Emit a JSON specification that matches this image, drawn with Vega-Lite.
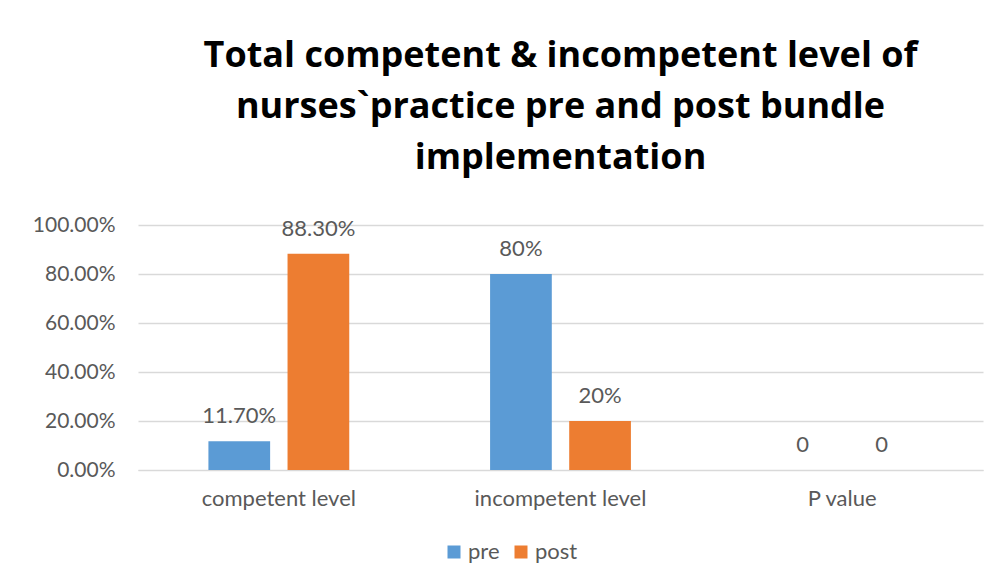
{
  "$schema": "https://vega.github.io/schema/vega-lite/v6.json",
  "width": 845,
  "height": 245,
  "autosize": {"type": "none"},
  "padding": {"left": 138, "top": 225, "right": 15, "bottom": 116},
  "background": "white",
  "config": {
    "font": "Lato",
    "view": {"stroke": null}
  },
  "title": {
    "text": ["Total competent & incompetent level of", "nurses`practice pre and post bundle", "implementation"],
    "fontSize": 36,
    "fontWeight": "bold",
    "font": "Open Sans",
    "color": "#000000",
    "lineHeight": 51,
    "anchor": "middle",
    "offset": 37
  },
  "data": {
    "values": [
      {"category": "competent level", "phase": "pre", "value": 0.117, "label": "11.70%"},
      {"category": "competent level", "phase": "post", "value": 0.883, "label": "88.30%"},
      {"category": "incompetent level", "phase": "pre", "value": 0.8, "label": "80%"},
      {"category": "incompetent level", "phase": "post", "value": 0.2, "label": "20%"},
      {"category": "P value", "phase": "pre", "value": 0, "label": "0"},
      {"category": "P value", "phase": "post", "value": 0, "label": "0"}
    ]
  },
  "encoding": {
    "x": {
      "field": "category",
      "type": "nominal",
      "sort": ["competent level", "incompetent level", "P value"],
      "scale": {"paddingInner": 0.5, "paddingOuter": 0.25},
      "axis": {
        "title": null,
        "labelAngle": 0,
        "labelFontSize": 22,
        "labelColor": "#595959",
        "labelPadding": 18,
        "ticks": false,
        "domainColor": "#d9d9d9",
        "grid": false
      }
    },
    "xOffset": {
      "field": "phase",
      "type": "nominal",
      "sort": ["pre", "post"],
      "scale": {"paddingInner": 0.22, "paddingOuter": 0}
    },
    "y": {
      "field": "value",
      "type": "quantitative",
      "scale": {"domain": [0, 1]},
      "axis": {
        "title": null,
        "format": ".2%",
        "values": [0, 0.2, 0.4, 0.6, 0.8, 1],
        "labelFontSize": 21,
        "labelColor": "#595959",
        "labelPadding": 23,
        "ticks": false,
        "domain": false,
        "gridColor": "#d9d9d9",
        "gridWidth": 1.5
      }
    }
  },
  "layer": [
    {
      "mark": {"type": "bar"},
      "encoding": {
        "color": {
          "field": "phase",
          "type": "nominal",
          "sort": ["pre", "post"],
          "scale": {"domain": ["pre", "post"], "range": ["#5B9BD5", "#ED7D31"]},
          "legend": {
            "title": null,
            "orient": "none",
            "legendX": 305,
            "legendY": 316,
            "direction": "horizontal",
            "symbolType": "square",
            "symbolSize": 169,
            "symbolStrokeWidth": 0,
            "labelFontSize": 22,
            "labelColor": "#595959",
            "columnPadding": 10,
            "labelOffset": 3
          }
        }
      }
    },
    {
      "mark": {"type": "text", "baseline": "alphabetic", "dy": -18, "fontSize": 22, "color": "#595959"},
      "encoding": {
        "text": {"field": "label", "type": "nominal"}
      }
    }
  ]
}
